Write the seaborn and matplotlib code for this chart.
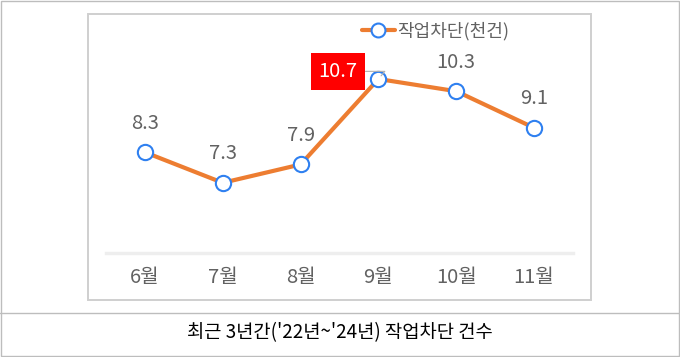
"""
최근 3년간 작업차단 건수 - 월별 라인 차트
"""

import matplotlib
matplotlib.use('Agg')
import matplotlib.pyplot as plt
from matplotlib.patches import Rectangle
from matplotlib.lines import Line2D
import pandas as pd
import seaborn as sns

# 데이터
months = ['6월', '7월', '8월', '9월', '10월', '11월']
blocked = [8.3, 7.3, 7.9, 10.7, 10.3, 9.1]
series_name = '작업차단(천건)'
caption = "최근 3년간('22년~'24년) 작업차단 건수"
highlight = '9월'

# 스타일
sns.set_theme(style='white')
plt.rcParams['font.family'] = ['Noto Sans CJK KR', 'DejaVu Sans']

W, H = 680, 357
ORANGE = '#ED7D31'
BLUE = '#2F80F0'
GRAY_TXT = '#626262'
LW = 3.0
MS = 11


def fx(px):
    return px / W


def fy(py):
    return 1 - py / H


df = pd.DataFrame({'month': months, 'value': blocked})

fig = plt.figure(figsize=(W / 100, H / 100), dpi=100)
ax = fig.add_axes([fx(106), fy(253), fx(573) - fx(106), fy(21) - fy(253)])

sns.lineplot(data=df, x='month', y='value', ax=ax, color=ORANGE, linewidth=LW,
             marker='o', markersize=MS, markerfacecolor='white',
             markeredgecolor=BLUE, markeredgewidth=1.5, sort=False)

ax.set_xlim(-0.5, len(months) - 0.5)
ax.set_ylim(5, 12.6)
ax.set_xlabel('')
ax.set_ylabel('')
ax.set_yticks([])
for s in ['top', 'right', 'left']:
    ax.spines[s].set_visible(False)
ax.spines['bottom'].set_color('#eeeeee')
ax.spines['bottom'].set_linewidth(2.5)
ax.tick_params(axis='x', length=0, pad=10, labelsize=14.5, labelcolor=GRAY_TXT)

# 데이터 레이블
for i, (m, v) in enumerate(zip(months, blocked)):
    if m == highlight:
        ax.annotate(f'{v}', xy=(i, v), xytext=(-29, 5.5), textcoords='offset points',
                    ha='center', va='center', fontsize=14.5, color='white',
                    bbox=dict(boxstyle='square,pad=0.38', facecolor='#FF0000', edgecolor='none'),
                    arrowprops=dict(arrowstyle='-', color='#b0b0b0', lw=0.8,
                                    shrinkA=0, shrinkB=3,
                                    connectionstyle='angle,angleA=0,angleB=50,rad=0'))
    else:
        ax.annotate(f'{v}', xy=(i, v), xytext=(0, 21), textcoords='offset points',
                    ha='center', va='center', fontsize=14.5, color=GRAY_TXT)

# 범례
handle = Line2D([], [], color=ORANGE, linewidth=LW, marker='o', markersize=MS - 1,
                markerfacecolor='white', markeredgecolor=BLUE, markeredgewidth=1.5)
fig.legend([handle], [series_name], loc='center left',
           bbox_to_anchor=(fx(362), fy(31)), bbox_transform=fig.transFigure,
           frameon=False, fontsize=13, labelcolor=GRAY_TXT,
           borderpad=0, borderaxespad=0, handlelength=1.8, handletextpad=0.15)

# 테두리 및 캡션
fig.add_artist(Rectangle((fx(88), fy(300)), fx(591) - fx(88), fy(14) - fy(300),
                         transform=fig.transFigure, fill=False,
                         edgecolor='#cfcfcf', linewidth=1.4))
fig.add_artist(Rectangle((0.001, 0.002), 0.997, 0.995, transform=fig.transFigure,
                         fill=False, edgecolor='#bdbdbd', linewidth=1.0))
fig.add_artist(Line2D([0, 1], [fy(313), fy(313)], transform=fig.transFigure,
                      color='#bdbdbd', linewidth=1.0))
fig.text(0.5, fy(333), caption, ha='center', va='center', fontsize=13.5, color='black')

fig.savefig('out.png', dpi=100)
plt.close(fig)
